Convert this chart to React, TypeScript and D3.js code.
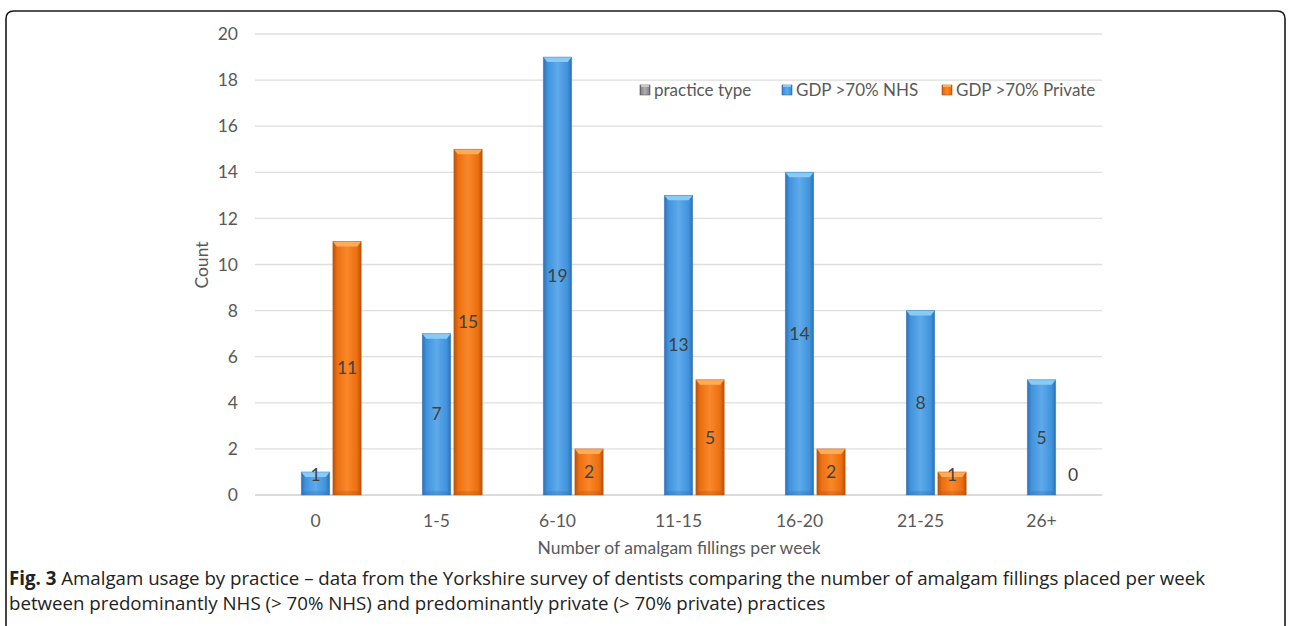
import React from "react";
import * as d3 from "d3";

const categories = ["0", "1-5", "6-10", "11-15", "16-20", "21-25", "26+"];
const seriesNames = ["practice type", "GDP >70% NHS", "GDP >70% Private"];
const practiceType: (number | null)[] = [null, null, null, null, null, null, null];
const nhs = [1, 7, 19, 13, 14, 8, 5];
const priv = [11, 15, 2, 5, 2, 1, 0];
const yTicks = [0, 2, 4, 6, 8, 10, 12, 14, 16, 18, 20];

const W = 1290, H = 626;
const left = 255, right = 1102, top = 34, bottom = 495;
const FONT = "Lato, 'Open Sans', sans-serif";
const FS = 17.5;

const palette: Record<string, { main: string; light: string; dark: string; top: string }> = {
  "practice type": { main: "#8c8c8c", light: "#b0b0b0", dark: "#5a5a5a", top: "#c8c8c8" },
  "GDP >70% NHS": { main: "#4193dd", light: "#5eaaea", dark: "#2d70b4", top: "#8acbf5" },
  "GDP >70% Private": { main: "#ec6f10", light: "#f8882a", dark: "#b8520a", top: "#ffac5a" },
};

function Bar({ x, y, w, h, s, id }: { x: number; y: number; w: number; h: number; s: string; id: string }) {
  const c = palette[s];
  const b = Math.min(5, h / 2);
  const bi = Math.min(4, w / 3);
  return (
    <g>
      <rect x={x} y={y} width={w} height={h} fill={`url(#g-${id})`} />
      <polygon points={`${x},${y} ${x + w},${y} ${x + w - bi},${y + b} ${x + bi},${y + b}`} fill={c.top} />
      <polygon points={`${x},${y + h} ${x + w},${y + h} ${x + w - bi},${y + h - b * 0.8} ${x + bi},${y + h - b * 0.8}`} fill={c.dark} opacity={0.3} />
      <rect x={x} y={y} width={w} height={h} fill="none" stroke={c.dark} strokeOpacity={0.5} strokeWidth={0.8} />
    </g>
  );
}

export default function App() {
  const x0 = d3.scaleBand<string>().domain(categories).range([left, right]).padding(0);
  const bw = x0.bandwidth();
  const x1 = d3.scaleBand<string>().domain(seriesNames).range([bw * 0.122, bw * 0.878]).paddingInner(0.1).paddingOuter(0);
  const y = d3.scaleLinear().domain([0, 20]).range([bottom, top]);

  const seriesData: Record<string, (number | null)[]> = {
    "practice type": practiceType,
    "GDP >70% NHS": nhs,
    "GDP >70% Private": priv,
  };

  const legendItems = [
    { s: "practice type", x: 640 },
    { s: "GDP >70% NHS", x: 782 },
    { s: "GDP >70% Private", x: 942 },
  ];

  return (
    <svg width={W} height={H} style={{ position: "absolute", left: 0, top: 0 }}>
      <defs>
        {seriesNames.map((s, i) => (
          <linearGradient key={s} id={`g-${i}`} x1="0" x2="1" y1="0" y2="0">
            <stop offset="0" stopColor={palette[s].dark} />
            <stop offset="0.15" stopColor={palette[s].main} />
            <stop offset="0.5" stopColor={palette[s].light} />
            <stop offset="0.85" stopColor={palette[s].main} />
            <stop offset="1" stopColor={palette[s].dark} />
          </linearGradient>
        ))}
      </defs>
      <rect x={0} y={0} width={W} height={H} fill="#fff" />
      <path d={`M6,${H + 2} L6,19 Q6,11 14,11 L1277,11 Q1285,11 1285,19 L1285,${H + 2}`} fill="none" stroke="#1a1a1a" strokeWidth={1.6} />

      {yTicks.map((t) => (
        <g key={t}>
          <line x1={left} x2={right} y1={y(t)} y2={y(t)} stroke={t === 0 ? "#cfcfcf" : "#dedede"} strokeWidth={1.3} />
          <text x={238} y={y(t)} dy="0.35em" textAnchor="end" fontFamily={FONT} fontSize={FS} fill="#595959">{t}</text>
        </g>
      ))}

      {categories.map((c, ci) =>
        seriesNames.map((s, si) => {
          const v = seriesData[s][ci];
          if (v === null || v === undefined) return null;
          const bx = (x0(c) as number) + (x1(s) as number);
          const w = x1.bandwidth();
          const yy = y(v);
          const h = y(0) - yy;
          const labelY = Math.min((yy + y(0)) / 2, y(0) - 20);
          return (
            <g key={c + s}>
              {h > 0 && <Bar x={bx} y={yy} w={w} h={h} s={s} id={String(si)} />}
              <text x={bx + w / 2} y={labelY} dy="0.35em" textAnchor="middle" fontFamily={FONT} fontSize={FS} fill="#404040">{v}</text>
            </g>
          );
        })
      )}

      {categories.map((c) => (
        <text key={c} x={(x0(c) as number) + bw / 2} y={521} dy="0.35em" textAnchor="middle" fontFamily={FONT} fontSize={FS} fill="#595959">{c}</text>
      ))}

      <text x={679} y={548} dy="0.35em" textAnchor="middle" fontFamily={FONT} fontSize={FS} fill="#595959">Number of amalgam fillings per week</text>
      <text transform={`translate(202,265) rotate(-90)`} dy="0.35em" textAnchor="middle" fontFamily={FONT} fontSize={FS} fill="#595959">Count</text>

      {legendItems.map((l) => (
        <g key={l.s}>
          <rect x={l.x} y={85} width={10} height={10} fill={`url(#g-${seriesNames.indexOf(l.s)})`} stroke={palette[l.s].dark} strokeWidth={0.6} />
          <rect x={l.x + 1} y={85} width={8} height={2} fill={palette[l.s].top} />
          <text x={l.x + 14} y={90} dy="0.35em" fontFamily={FONT} fontSize={17} fill="#595959">{l.s}</text>
        </g>
      ))}

      <text x={9} y={578} dy="0.35em" fontFamily="'Open Sans', sans-serif" fontSize={18.7} fill="#222">
        <tspan fontWeight="bold">Fig. 3</tspan> Amalgam usage by practice – data from the Yorkshire survey of dentists comparing the number of amalgam fillings placed per week
      </text>
      <text x={9} y={603} dy="0.35em" fontFamily="'Open Sans', sans-serif" fontSize={18.7} fill="#222">
        between predominantly NHS (&gt; 70% NHS) and predominantly private (&gt; 70% private) practices
      </text>
    </svg>
  );
}
